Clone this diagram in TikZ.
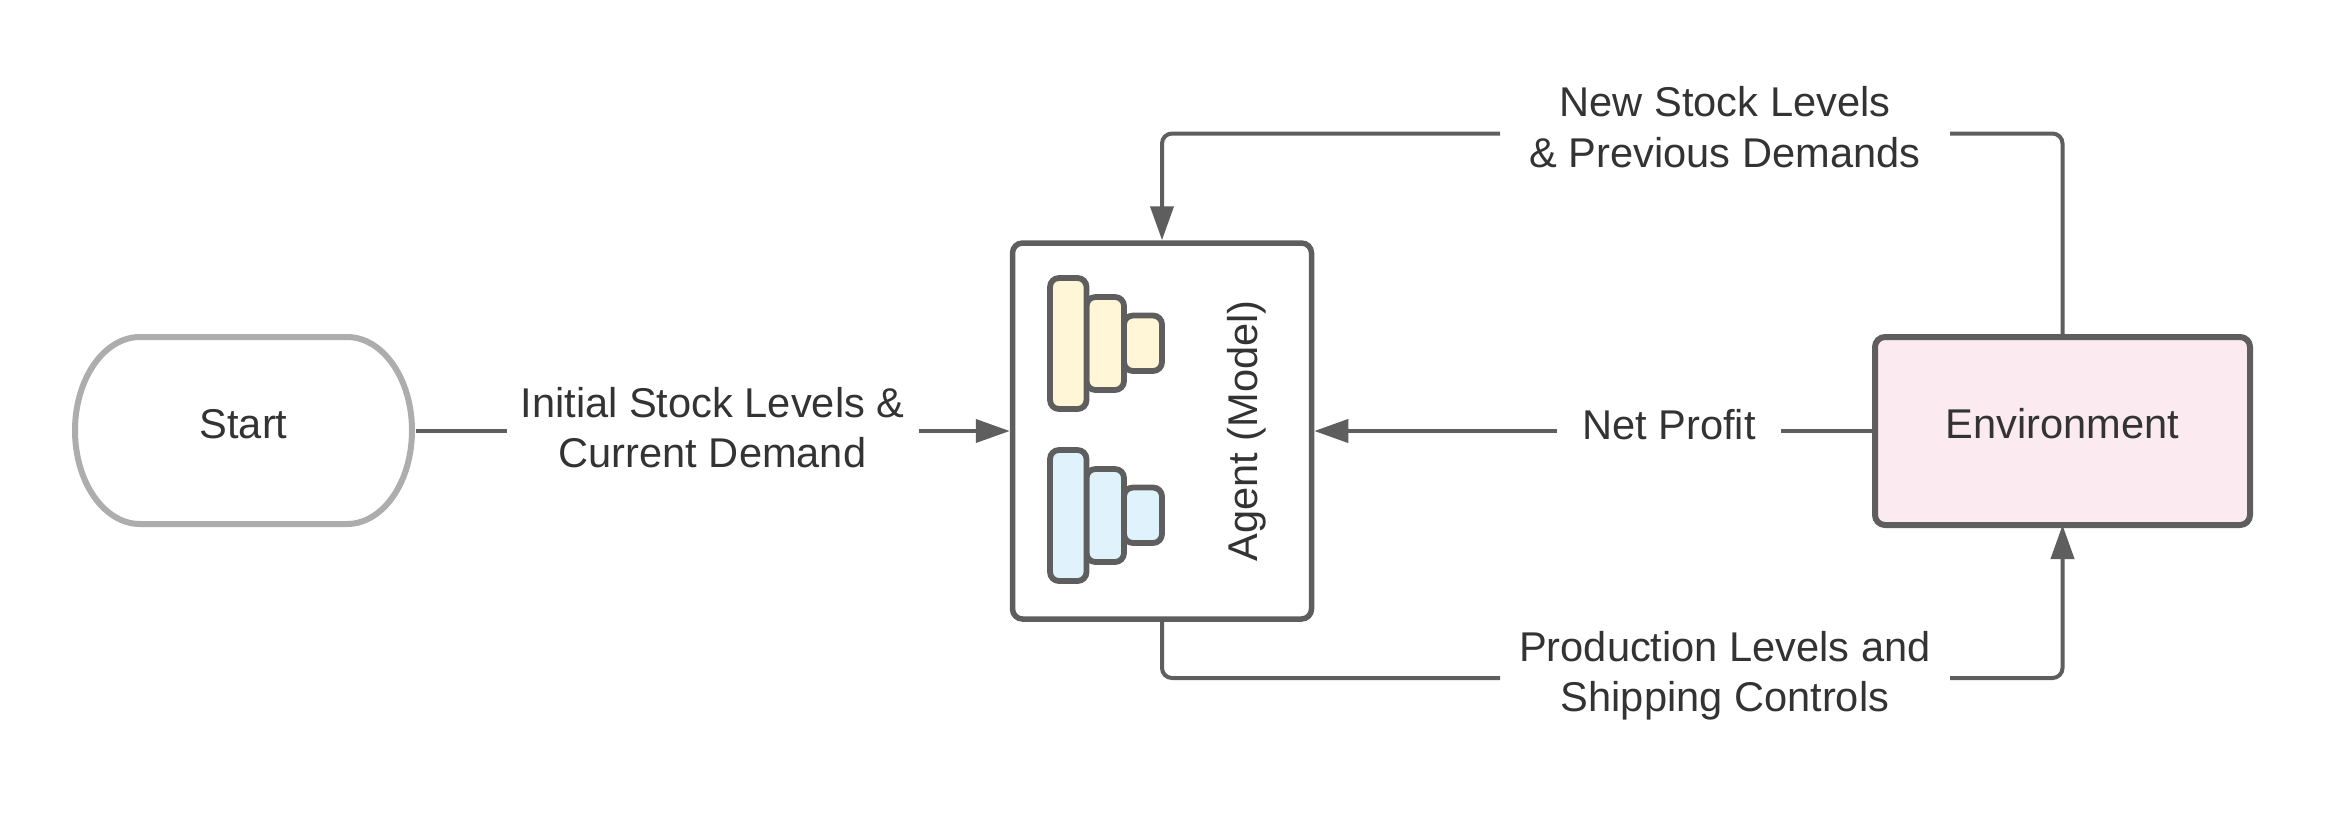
\documentclass[tikz,border=0pt]{standalone}
\usepackage{fontspec}
\setmainfont{Liberation Sans}
\usetikzlibrary{arrows.meta}
\definecolor{ink}{HTML}{5E5E5E}
\definecolor{txt}{HTML}{333333}
\definecolor{startline}{HTML}{ADADAD}
\definecolor{yel}{HTML}{FFF6D8}
\definecolor{blu}{HTML}{E0F2FC}
\definecolor{pnk}{HTML}{FBEAF0}
\tikzset{
  lbl/.style={font=\fontsize{41.6}{50.4}\selectfont, text=txt, inner sep=0pt, outer sep=0pt, align=center},
  oneline/.style={lbl, text height=32pt, text depth=16pt},
  conn/.style={draw=ink, line width=4pt, rounded corners=10pt},
  arr/.style={conn, -{Triangle[length=34pt,width=23pt]}},
  agentbox/.style={draw=ink, line width=5.5pt, fill=white, rounded corners=10pt, inner sep=0pt, minimum width=299pt, minimum height=376pt},
  envbox/.style={lbl, text height=34pt, text depth=20pt, draw=ink, line width=6pt, fill=pnk, rounded corners=10pt, minimum width=375pt, minimum height=188pt},
  startarea/.style={lbl, minimum width=344pt, minimum height=193pt, text height=33pt, text depth=18pt},
  bar/.style={draw=ink, line width=5.8pt, rounded corners=9pt},
}
\begin{document}
\begin{tikzpicture}[x=1pt,y=-1pt]
\useasboundingbox (0,0) rectangle (2325,812);
% Start shape
\draw[draw=startline, line width=6pt, fill=white]
  (140,337) -- (347,337) arc[start angle=-90, end angle=90, x radius=65, y radius=93.5]
  -- (140,524) arc[start angle=90, end angle=270, x radius=65, y radius=93.5] -- cycle;
\node[startarea] (start) at (243.5,431) {Start};
% Agent
\node[agentbox] (agent) at (1162,431) {};
\foreach \dy/\col in {0/yel,172/blu}{
  \draw[bar, fill=\col] (1124,315.5+\dy) rectangle (1162,371+\dy);
  \draw[bar, fill=\col] (1086.5,297+\dy) rectangle (1124,390+\dy);
  \draw[bar, fill=\col] (1050,278+\dy) rectangle (1086.5,409+\dy);
}
\node[lbl, rotate=90, anchor=base] (agenttext) at (1257,431) {Agent (Model)};
% Environment
\node[envbox] (env) at (2062.5,431) {Environment};
% Labels
\node[lbl, minimum width=412pt] (l1) at (712.5,432.5) {\strut Initial Stock Levels \&\\\strut Current Demand};
\node[lbl, minimum width=450pt] (l2) at (1725,132) {\strut New Stock Levels\\\strut \& Previous Demands};
\node[lbl, minimum width=450pt] (l3) at (1725,676.5) {\strut Production Levels and\\\strut Shipping Controls};
\node[oneline, minimum width=224pt] (l4) at (1669,431) {Net Profit};
% Connectors
\draw[conn] (start.east) -- (start.east -| l1.west);
\draw[arr] (l1.east |- agent.west) -- (agent.west);
\draw[conn] (env.north) |- (l2.east |- 0,133.5);
\draw[arr] (l2.west |- 0,133.5) -| (agent.north);
\draw[conn] (agent.south) |- (l3.west |- 0,678);
\draw[arr] (l3.east |- 0,678) -| (env.south);
\draw[conn] (env.west) -- (l4.east);
\draw[arr] (l4.west) -- (agent.east);
\end{tikzpicture}
\end{document}
